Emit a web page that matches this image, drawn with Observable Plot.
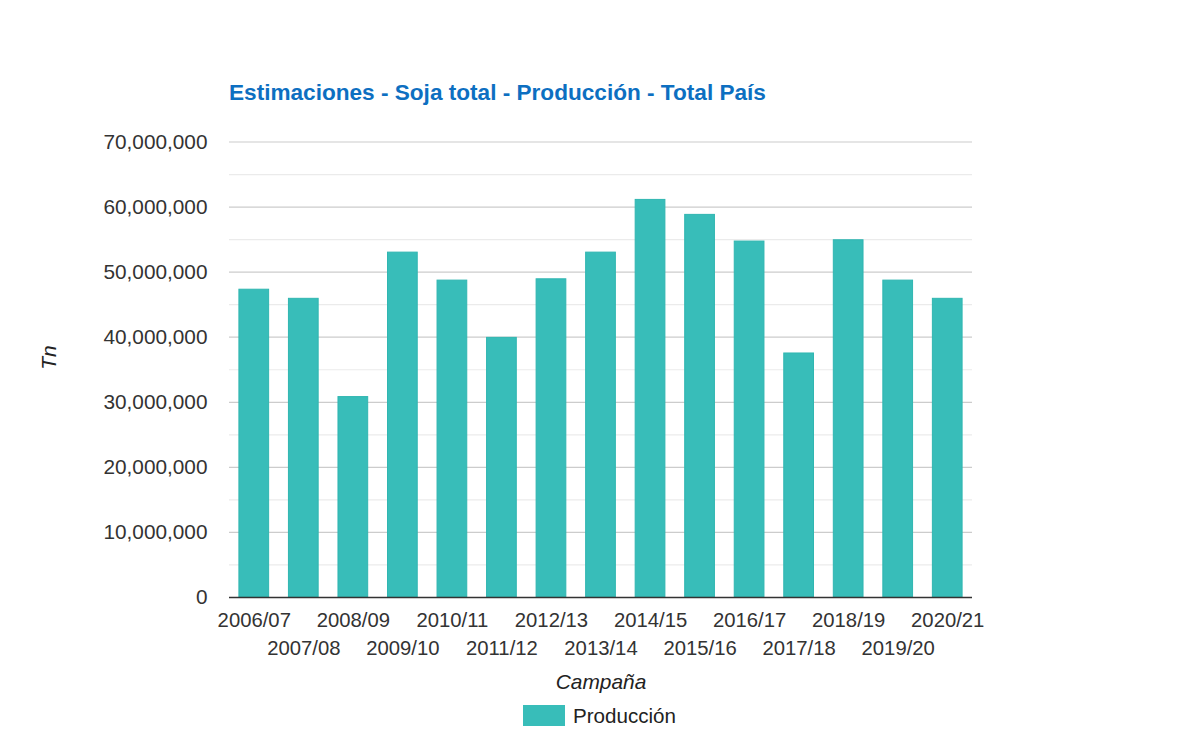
<!DOCTYPE html>
<html>
<head>
<meta charset="utf-8">
<script src="https://cdn.jsdelivr.net/npm/d3@7"></script>
<script src="https://cdn.jsdelivr.net/npm/@observablehq/plot@0.6"></script>
<style>
  html, body { margin: 0; padding: 0; background: #fff; }
  #wrap { position: relative; width: 1200px; height: 738px; overflow: hidden; font-family: "Liberation Sans", Arial, sans-serif; }
  #title { position: absolute; left: 229px; top: 82px; font-size: 22.6px; line-height: 22px; font-weight: bold; color: #0d6fc1; white-space: nowrap; }
  #chart { position: absolute; left: 0; top: 120px; }
  #legend { position: absolute; left: 523px; top: 705px; height: 21px; display: flex; align-items: center; }
  #legend .sw { width: 42px; height: 21px; background: #38bdb9; }
  #legend .lb { margin-left: 8px; font-size: 20.6px; line-height: 20px; color: #222; white-space: nowrap; }
</style>
</head>
<body>
<div id="wrap">
  <div id="title">Estimaciones - Soja total - Producción - Total País</div>
  <div id="chart"></div>
  <div id="legend"><div class="sw"></div><div class="lb">Producción</div></div>
</div>
<script>
const campaigns = ["2006/07","2007/08","2008/09","2009/10","2010/11","2011/12","2012/13","2013/14","2014/15","2015/16","2016/17","2017/18","2018/19","2019/20","2020/21"];
const production = [47300000, 45900000, 30800000, 53000000, 48700000, 39900000, 48900000, 53000000, 61100000, 58800000, 54700000, 37500000, 54900000, 48700000, 45900000];
const majorTicks = [0, 10000000, 20000000, 30000000, 40000000, 50000000, 60000000, 70000000];
const minorTicks = [5000000, 15000000, 25000000, 35000000, 45000000, 55000000, 65000000];
const seriesName = "Producción";
const xTitle = "Campaña";
const yTitle = "Tn";

const data = campaigns.map((c, i) => ({campaign: c, value: production[i]}));
const evenCats = campaigns.filter((c, i) => i % 2 === 0);
const oddCats = campaigns.filter((c, i) => i % 2 === 1);

const chart = Plot.plot({
  width: 1200,
  height: 580,
  marginLeft: 229,
  marginRight: 228,
  marginTop: 21.5,
  marginBottom: 103,
  style: {fontFamily: "'Liberation Sans', Arial, sans-serif", fontSize: "20px", color: "#333", background: "transparent"},
  x: {type: "band", domain: campaigns, paddingInner: 0.4, paddingOuter: 0.2, align: 0.5, round: false},
  y: {domain: [0, 70000000]},
  marks: [
    Plot.ruleY(minorTicks, {stroke: "#ebebeb", strokeWidth: 1.2}),
    Plot.ruleY(majorTicks.slice(1), {stroke: "#cccccc", strokeWidth: 1.2}),
    Plot.barY(data, {x: "campaign", y: "value", fill: "#38bdb9", stroke: "#30b6b1", strokeWidth: 1}),
    Plot.ruleY([0], {stroke: "#333", strokeWidth: 1.3}),
    Plot.axisY({ticks: majorTicks, tickSize: 0, tickPadding: 22, tickFormat: d3.format(","), label: null, fontSize: 20.8}),
    Plot.axisX({ticks: evenCats, tickSize: 0, tickPadding: 15, label: null, fontSize: 20.3}),
    Plot.axisX({ticks: oddCats, tickSize: 0, tickPadding: 43, label: null, fontSize: 20.3}),
    Plot.text([xTitle], {text: d => d, frameAnchor: "bottom", dy: 91, lineAnchor: "bottom", fontStyle: "italic", fontSize: 20.9, fill: "#222"}),
    Plot.text([yTitle], {text: d => d, frameAnchor: "left", dx: -180, rotate: -90, lineAnchor: "middle", fontStyle: "italic", fontSize: 20.9, fill: "#222"})
  ]
});
document.getElementById("chart").appendChild(chart);
document.querySelector("#legend .lb").textContent = seriesName;
</script>
</body>
</html>
